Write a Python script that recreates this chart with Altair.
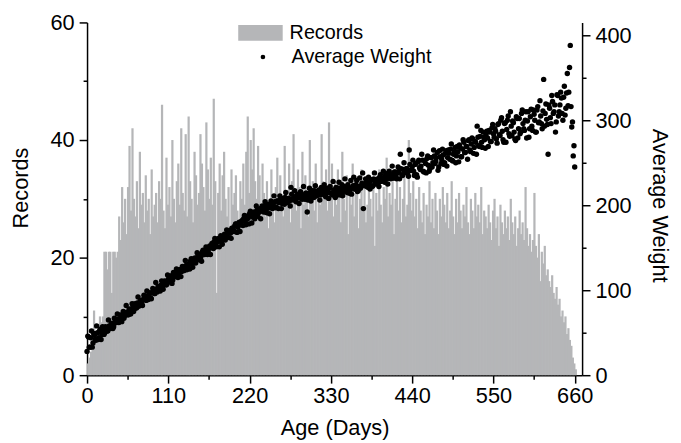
import altair as alt
import pandas as pd

# Records per 2-day bin (day 0, 2, 4, ... 660)
records = [
    2, 3, 4, 5, 11, 6,
    7, 8, 10, 9, 10,
    21, 21, 18, 21, 21, 14, 21, 21, 20, 21,
    27, 23, 32, 26, 30, 24, 32, 39,
    28, 42, 30, 27, 33, 25, 38, 29, 31, 26, 34, 28, 30, 24, 35, 27, 29, 31, 26, 33,
    30, 46, 28, 25, 37, 29, 32, 27, 40, 30, 26, 33, 36, 29, 42, 31, 28, 41, 27, 44,
    33, 30, 26, 38, 34, 29, 31, 41, 36, 32, 28, 43, 35,
    30, 37, 29, 47, 33, 14, 31, 36, 28, 34, 38, 30, 27, 32, 25, 35, 29, 31, 34, 28,
    26, 33, 30, 36, 29, 38, 44, 31, 40, 35, 42, 33, 30, 39, 34,
    28, 36, 31, 27, 33, 25, 30, 35, 29, 26, 32, 37, 28, 34, 30, 27, 39, 31, 29, 36,
    26, 33, 41, 30, 28, 35, 32, 25, 38, 29, 34, 31, 27, 40, 30, 33, 28, 36, 26, 31,
    29, 41, 33, 30, 35, 28,
    43, 30, 36, 27, 33, 29, 35, 31, 26, 38, 30, 28, 34, 24, 32, 29, 36, 27, 31, 33,
    25, 30, 35, 28, 32, 26, 29, 34, 30, 27, 33, 22, 31, 28, 35, 29, 26, 32, 30, 37,
    27, 31, 29, 33, 24, 30, 35, 28, 32, 26, 30, 34, 27, 29, 40, 31, 28, 33,
    27, 30, 25, 32, 28, 26, 31, 24, 29, 27, 33, 26, 30, 25, 31, 28, 24, 30, 27, 32,
    29, 26, 31, 25, 28, 33, 27, 24, 30, 26, 31, 28, 25, 29, 27, 32, 26, 24, 30, 28,
    25, 31, 27, 29, 26, 32, 24, 28, 27, 25, 29, 26, 23, 28, 30, 25, 27, 22, 29, 26,
    24, 28, 25, 27, 23, 30, 26, 24, 27, 22, 25, 28, 24, 26, 23, 32, 25, 22, 24, 21,
    23, 31, 22, 20, 24, 16, 21, 19, 22, 17,
    18, 16, 15, 17, 14, 13, 15, 12, 13, 10,
    11, 9, 10, 7, 8, 6, 5, 3, 2, 1,
]

# Average weight on even days (0, 2, 4, ... 660)
weights_even = [
    28, 45, 33, 52, 38, 47, 41, 50, 44, 54, 48, 53, 50, 56, 52, 58, 55, 61, 57, 63,
    62, 66, 63, 68, 70, 67, 72, 74, 71, 77, 76, 80, 78, 82, 85, 81, 87, 84, 89, 92,
    88, 93, 95, 91, 97, 99, 96, 101, 104, 100, 106, 103, 108, 110, 107, 113,
    114, 117, 112, 120, 118, 121, 119, 124, 122, 127, 125, 129, 128, 131, 134,
    132, 136, 138, 135, 140, 142, 139, 145, 143, 147, 149, 146, 152, 150, 154,
    157, 153, 159, 161, 158, 163, 160, 166, 164, 168, 170, 167, 173, 171, 176,
    178, 174, 180, 177, 182, 184, 181, 187, 185, 190,
    189, 186, 192, 190, 194, 191, 196, 193, 198, 195, 199, 196, 201, 197, 202,
    200, 204, 198, 205, 203, 207, 202, 206, 209, 204, 208, 205, 221, 207, 210,
    206, 211, 209, 213, 208, 212, 210, 214, 192, 211, 215, 209, 213, 217, 211,
    214, 218, 212, 216, 219, 213, 217, 215, 220, 214,
    212, 218, 209, 216, 220, 214, 219, 211, 222, 217, 215, 221, 218, 213, 223,
    219, 224, 216, 222, 220, 226, 196, 223, 228, 221, 225, 229, 222, 231, 227,
    230, 226, 233, 228, 232, 229, 235, 231, 237, 233, 236, 232, 239, 234, 238,
    240, 260, 236, 242, 239, 243, 238, 265, 241, 245,
    240, 248, 236, 251, 244, 246, 253, 239, 249, 255, 247, 243, 256, 250, 258,
    252, 262, 245, 257, 254, 259, 250, 264, 256, 261, 266, 253, 260, 268, 258,
    263, 271, 257, 266, 274, 262, 269, 276, 265, 272, 278, 268, 274, 293, 270,
    281, 274, 286, 277, 283, 279, 288, 275, 291, 284,
    290, 278, 295, 283, 300, 287, 274, 297, 289, 305, 281, 293, 299, 286, 276,
    302, 290, 284, 308, 296, 288, 310, 299, 280, 304, 293, 312, 300, 286, 316,
    298, 305, 290, 348, 308, 301, 260, 314, 296, 322, 310, 286, 330, 305, 318,
    326, 300, 340, 314, 355, 333, 388, 292, 258, 245,
]

# Average weight on odd days (1, 3, 5, ... 659)
weights_odd = [
    46, 33, 44, 33, 49, 42, 58, 42, 52, 42,
    57, 48, 57, 52, 65, 56, 61, 55, 67, 62,
    72, 62, 71, 63, 75, 70, 82, 71, 78, 72,
    84, 75, 84, 79, 92, 83, 88, 82, 94, 89,
    99, 89, 97, 90, 102, 96, 109, 98, 104, 99,
    111, 101, 111, 106, 118, 110, 115, 108, 121, 116,
    125, 115, 124, 116, 128, 123, 135, 124, 130, 125,
    137, 127, 137, 132, 144, 136, 141, 134, 147, 142,
    151, 142, 150, 142, 155, 149, 161, 151, 157, 151,
    164, 154, 163, 159, 171, 162, 168, 161, 173, 169,
    178, 168, 177, 169, 181, 176, 188, 177, 184, 178,
    193, 179, 191, 184, 199, 187, 193, 184, 199, 192,
    204, 191, 201, 190, 205, 196, 211, 197, 205, 196,
    211, 196, 208, 201, 215, 203, 208, 199, 213, 206,
    217, 204, 213, 202, 216, 207, 222, 207, 214, 206,
    220, 205, 217, 209, 223, 211, 216, 206, 221, 213,
    224, 210, 220, 208, 222, 214, 228, 214, 221, 212,
    227, 212, 224, 216, 231, 218, 224, 214, 229, 221,
    233, 219, 229, 217, 232, 223, 238, 223, 231, 222,
    233, 219, 230, 223, 238, 225, 231, 222, 236, 229,
    240, 227, 237, 225, 240, 231, 246, 232, 239, 231,
    245, 231, 243, 235, 250, 238, 243, 234, 248, 241,
    253, 235, 249, 233, 253, 242, 260, 240, 252, 238,
    258, 240, 256, 245, 265, 249, 256, 241, 264, 249,
    266, 248, 261, 246, 265, 254, 272, 252, 263, 250,
    269, 251, 268, 257, 277, 262, 269, 254, 277, 263,
    279, 261, 275, 260, 280, 269, 288, 268, 280, 267,
    287, 269, 286, 275, 295, 280, 287, 273, 296, 282,
    303, 277, 296, 274, 300, 284, 310, 282, 297, 278,
    304, 279, 302, 286, 312, 290, 300, 279, 310, 290,
    313, 288, 307, 286, 312, 297, 323, 296, 311, 293,
    319, 295, 318, 303, 329, 308, 318, 298, 329, 310,
    333, 308, 327, 306, 332, 317, 362, 316, 298, 270,
]

bin_days = 2
x_ticks = list(range(0, 661, 55))
left_ticks = list(range(0, 61, 10))
right_ticks = list(range(0, 401, 50))

bars_df = pd.DataFrame({
    "day": [i * bin_days for i in range(len(records))],
    "records": records,
    "series": "Records",
})
pts_df = pd.DataFrame({
    "day": [2 * i for i in range(len(weights_even))] + [2 * i + 1 for i in range(len(weights_odd))],
    "weight": weights_even + weights_odd,
    "series": "Average Weight",
})

FONT = "Liberation Sans"
GREY = "#b5b6b8"

x_enc = alt.X(
    "day:Q",
    scale=alt.Scale(domain=[0, 670], nice=False, zero=False),
    axis=alt.Axis(
        values=x_ticks,
        labelExpr="datum.value % 110 === 0 ? datum.label : ''",
        tickSize={"condition": {"test": "datum.value % 110 === 0", "value": 8}, "value": 4},
        title="Age (Days)",
        titleY=60,
        titleBaseline="alphabetic",
        labelPadding=3,
        labelOverlap=False,
        labelFlush=False,
    ),
)

bars = alt.Chart(bars_df).transform_calculate(
    day_end="datum.day + 3"
).mark_bar(color=GREY, strokeWidth=0).encode(
    x=x_enc,
    x2="day_end:Q",
    y=alt.Y(
        "records:Q",
        scale=alt.Scale(domain=[0, 60], nice=False),
        axis=alt.Axis(
            values=left_ticks,
            labelExpr="datum.value % 20 === 0 ? datum.label : ''",
            tickSize={"condition": {"test": "datum.value % 20 === 0", "value": 8}, "value": 4},
            title="Records",
            titleAngle=-90,
            titleX=-60,
            titleY=167,
            titleAlign="center",
            titleBaseline="alphabetic",
            labelPadding=5,
            labelOverlap=False,
        ),
    ),
    y2=alt.datum(0),
    color=alt.Color(
        "series:N",
        scale=alt.Scale(domain=["Records"], range=[GREY]),
        legend=alt.Legend(
            orient="none", legendX=153, legendY=-12, title=None, padding=0,
            symbolType="M-1,-0.356L1,-0.356L1,0.356L-1,0.356Z",
            symbolSize=2025, symbolStrokeWidth=0, labelOffset=7,
        ),
    ),
)

points = alt.Chart(pts_df).mark_circle(size=30, opacity=1).encode(
    x=alt.X("day:Q"),
    y=alt.Y(
        "weight:Q",
        scale=alt.Scale(domain=[0, 415], nice=False),
        axis=alt.Axis(
            orient="right",
            values=right_ticks,
            labelExpr="datum.value % 100 === 0 ? datum.label : ''",
            tickSize={"condition": {"test": "datum.value % 100 === 0", "value": 8}, "value": 4},
            title="Average Weight",
            titleAngle=90,
            titleX=71,
            titleY=185,
            titleAlign="center",
            titleBaseline="alphabetic",
            labelPadding=5,
            labelOverlap=False,
        ),
    ),
    color=alt.Color(
        "series:N",
        scale=alt.Scale(domain=["Average Weight"], range=["#000000"]),
        legend=alt.Legend(
            orient="none", legendX=168, legendY=25, title=None, padding=0,
            symbolType="circle", symbolSize=22, symbolStrokeWidth=0, labelOffset=19,
        ),
    ),
)

chart = alt.layer(bars, points).resolve_scale(
    y="independent", color="independent"
).properties(
    width=501,
    height=357,
    autosize=alt.AutoSizeParams(type="none"),
    padding={"left": 80, "top": 12, "right": 92, "bottom": 66},
).configure_view(
    stroke=None
).configure_axis(
    domainColor="black", domainWidth=1.5, tickColor="black", tickWidth=1.5,
    labelFont=FONT, labelFontSize=22, labelColor="black",
    titleFont=FONT, titleFontSize=22, titleFontWeight="normal", titleColor="black",
    grid=False,
).configure_legend(
    labelFont=FONT, labelFontSize=20, labelColor="black",
)

chart.save("out.html", embed_options={"renderer": "svg", "actions": False})
